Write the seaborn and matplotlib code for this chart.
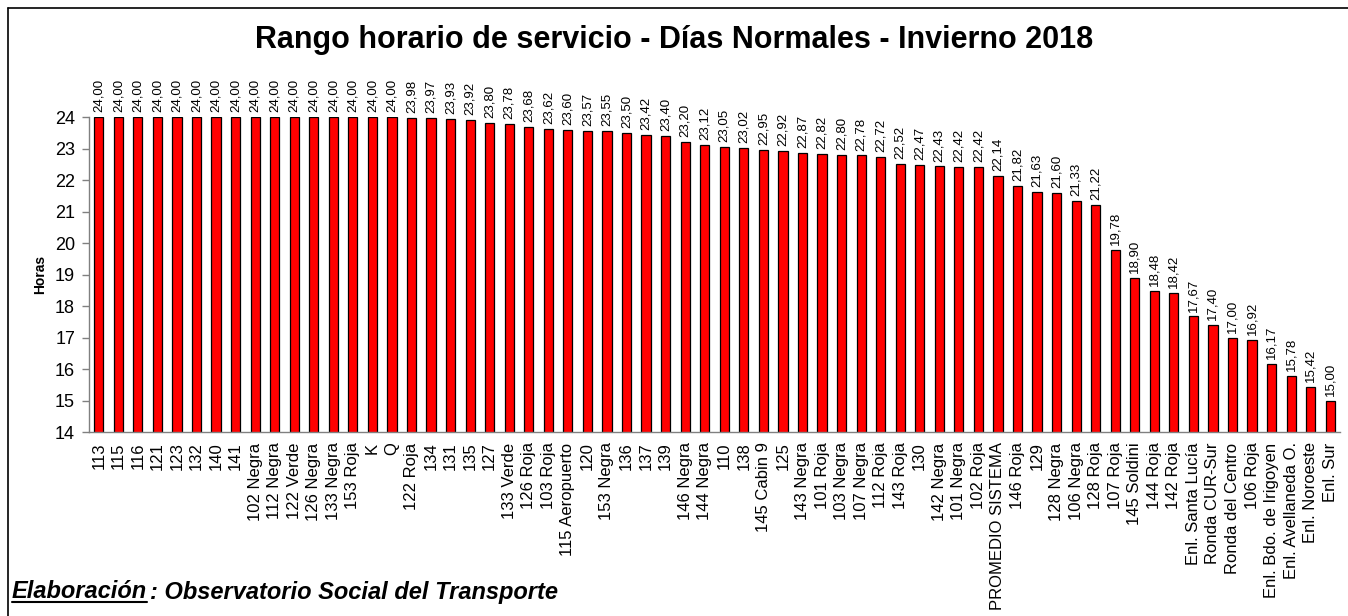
import numpy as np
import pandas as pd
import seaborn as sns
import matplotlib.pyplot as plt
from matplotlib.lines import Line2D

# Lines (ordered by service hours)
lineas = ['113', '115', '116', '121', '123', '132', '140', '141',
          '102 Negra', '112 Negra', '122 Verde', '126 Negra', '133 Negra', '153 Roja',
          'K', 'Q', '122 Roja', '134', '131', '135', '127', '133 Verde', '126 Roja',
          '103 Roja', '115 Aeropuerto', '120', '153 Negra', '136', '137', '139',
          '146 Negra', '144 Negra', '110', '138', '145 Cabin 9', '125', '143 Negra',
          '101 Roja', '103 Negra', '107 Negra', '112 Roja', '143 Roja', '130',
          '142 Negra', '101 Negra', '102 Roja', 'PROMEDIO SISTEMA', '146 Roja', '129',
          '128 Negra', '106 Negra', '128 Roja', '107 Roja', '145 Soldini', '144 Roja',
          '142 Roja', 'Enl. Santa Lucía', 'Ronda CUR-Sur', 'Ronda del Centro', '106 Roja',
          'Enl. Bdo. de Irigoyen', 'Enl. Avellaneda O.', 'Enl. Noroeste', 'Enl. Sur']

horas = [24.00, 24.00, 24.00, 24.00, 24.00, 24.00, 24.00, 24.00,
         24.00, 24.00, 24.00, 24.00, 24.00, 24.00, 24.00, 24.00,
         23.98, 23.97, 23.93, 23.92, 23.80, 23.78, 23.68, 23.62, 23.60, 23.57,
         23.55, 23.50, 23.42, 23.40, 23.20, 23.12, 23.05, 23.02, 22.95, 22.92,
         22.87, 22.82, 22.80, 22.78, 22.72, 22.52, 22.47, 22.43, 22.42, 22.42,
         22.14, 21.82, 21.63, 21.60, 21.33, 21.22, 19.78, 18.90, 18.48, 18.42,
         17.67, 17.40, 17.00, 16.92, 16.17, 15.78, 15.42, 15.00]

y_ticks = list(range(14, 25))

df = pd.DataFrame({'linea': lineas, 'horas': horas})

sns.set_theme(style='white')
plt.rcParams['font.family'] = ['Liberation Sans', 'DejaVu Sans']
plt.rcParams['text.color'] = 'black'
plt.rcParams['axes.labelcolor'] = 'black'
plt.rcParams['xtick.color'] = 'black'
plt.rcParams['ytick.color'] = 'black'

fig = plt.figure(figsize=(13.48, 6.16), dpi=100)
ax = fig.add_axes([89 / 1348, 1 - 432 / 616, (1340 - 89) / 1348, (432 - 117) / 616])

sns.barplot(data=df, x='linea', y='horas', order=lineas, color='#ff0000',
            saturation=1, width=0.47, edgecolor='black', linewidth=0.9, ax=ax)

# Value labels with comma decimal
etiquetas = [f'{v:.2f}'.replace('.', ',') for v in horas]
ax.bar_label(ax.containers[0], labels=etiquetas, rotation=90, padding=3.5,
             fontsize=9.5, color='black')

ax.set_ylim(14, 24)
ax.set_xlim(-0.5, len(lineas) - 0.5)
ax.set_yticks(y_ticks)
ax.set_yticklabels([str(t) for t in y_ticks], fontsize=13)

# Category labels at bar centers, tick marks at category boundaries
ax.set_xticks(np.arange(len(lineas)))
ax.set_xticklabels(lineas, rotation=90, fontsize=12, ha='center', va='top')
ax.set_xticks(np.arange(len(lineas) + 1) - 0.5, minor=True)
ax.tick_params(axis='x', which='major', length=0, pad=7.5)
ax.tick_params(axis='x', which='minor', length=5, width=1, color='#808080', direction='out')
ax.tick_params(axis='y', length=5, width=1, color='#808080', labelcolor='black',
               direction='out', left=True, pad=5)

for s in ['top', 'right']:
    ax.spines[s].set_visible(False)
for s in ['left', 'bottom']:
    ax.spines[s].set_color('#808080')
    ax.spines[s].set_linewidth(1)

ax.set_xlabel('')
ax.set_ylabel('Horas', fontsize=10, fontweight='bold', labelpad=6)

fig.text(0.5, 1 - 40 / 616, 'Rango horario de servicio - Días Normales - Invierno 2018',
         ha='center', va='center', fontsize=22, fontweight='bold')

# Footnote with underlined first word
t1 = fig.text(12 / 1348, 1 - 592 / 616, 'Elaboración', ha='left', va='center',
              fontsize=17, fontweight='bold', style='italic')
fig.canvas.draw()
bb = t1.get_window_extent().transformed(fig.transFigure.inverted())
fig.text(bb.x1 + 3 / 1348, 1 - 592 / 616, ': Observatorio Social del Transporte',
         ha='left', va='center', fontsize=17, fontweight='bold', style='italic')
fig.add_artist(Line2D([bb.x0, bb.x1], [bb.y0 + 2 / 616, bb.y0 + 2 / 616],
                      transform=fig.transFigure, color='black', linewidth=1.5))

# Frame on left and top edges
fig.add_artist(Line2D([8 / 1348, 8 / 1348], [0, 1 - 8 / 616], transform=fig.transFigure,
                      color='black', linewidth=1.2))
fig.add_artist(Line2D([8 / 1348, 1], [1 - 8 / 616, 1 - 8 / 616], transform=fig.transFigure,
                      color='black', linewidth=1.2))

fig.savefig('out.png', dpi=100)
